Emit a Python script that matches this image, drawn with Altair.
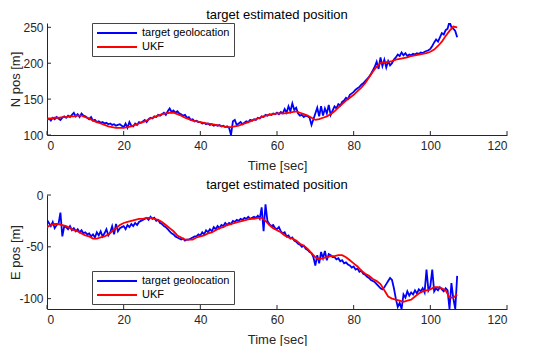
import altair as alt
import pandas as pd

# ---- data ----
# target geolocation, sampled every 0.5 s
north_geo = [
    121, 123, 120, 124, 122, 125, 123, 121, 124, 126,
    124, 127, 125, 128, 131, 126, 129, 125, 130, 127,
    126, 124, 122, 125, 120, 121, 118, 119, 117, 118,
    116, 117, 115, 116, 114, 115, 113, 114, 115, 113,
    111, 116, 110, 118, 113, 112, 116, 114, 118, 117,
    119, 121, 118, 122, 124, 123, 126, 125, 128, 127,
    129, 131, 128, 133, 137, 132, 134, 131, 133, 130,
    129, 127, 128, 124, 125, 121, 122, 119, 120, 118,
    118, 116, 117, 115, 116, 114, 115, 113, 114, 113,
    114, 112, 113, 111, 112, 110, 100, 119, 121, 114,
    116, 118, 115, 117, 119, 118, 121, 120, 122, 121,
    124, 123, 126, 125, 128, 127, 129, 128, 130, 129,
    131, 129, 132, 130, 136, 131, 140, 133, 144, 135,
    138, 130, 127, 128, 125, 127, 126, 124, 114, 122,
    130, 138, 126, 140, 127, 137, 130, 142, 128, 134,
    140, 137, 143, 141, 146, 148, 152, 150, 156, 158,
    160, 163, 165, 167, 170, 172, 175, 178, 181, 185,
    190, 195, 202, 192, 208, 196, 205, 194, 203, 197,
    200, 205, 208, 212, 210, 215, 211, 214, 210, 212,
    211, 213, 212, 214, 213, 215, 214, 216, 217, 218,
    220, 224, 229, 233, 230, 236, 242, 240, 246, 248,
    258, 250, 248, 245, 236,
]
# UKF estimate, sampled every 1 s
north_ukf = [
    122, 123, 124, 124, 125, 125, 126, 126, 127, 127,
    125, 123, 120, 118, 116, 114, 112, 111, 110, 110,
    110, 111, 112, 114, 116, 118, 120, 123, 125, 127,
    129, 130, 131, 131, 129, 127, 124, 122, 120, 119,
    118, 117, 116, 115, 114, 113, 112, 111, 111, 112,
    113, 115, 117, 119, 121, 123, 125, 127, 128, 129,
    130, 130, 130, 131, 132, 133, 131, 129, 127, 124,
    121, 122, 124, 126, 129, 133, 138, 143, 148, 152,
    156, 161, 166, 172, 180, 188, 195, 200, 201, 202,
    203, 205, 206, 207, 208, 210, 211, 212, 213, 214,
    216, 219, 224, 230, 238, 245, 251, 250,
]
east_geo = [
    -24, -27, -30, -26, -32, -29, -28, -17, -40, -30,
    -31, -33, -30, -34, -32, -35, -33, -36, -34, -37,
    -36, -38, -37, -40, -38, -41, -36, -39, -35, -40,
    -37, -33, -39, -36, -30, -38, -28, -35, -32, -31,
    -30, -33, -29, -31, -28, -30, -27, -29, -26, -25,
    -24, -23, -22, -24, -21, -23, -22, -25, -24, -27,
    -28, -30, -31, -33, -35, -37, -38, -40, -41, -42,
    -43, -42, -44, -43, -43, -42, -41, -40, -40, -38,
    -39, -36, -38, -34, -36, -33, -35, -31, -33, -30,
    -32, -29, -30, -27, -29, -27, -28, -25, -26, -24,
    -25, -23, -24, -22, -23, -21, -23, -22, -21, -22,
    -20, -23, -12, -35, -9, -25, -28, -30, -29, -32,
    -33, -31, -35, -37, -36, -40, -39, -42, -41, -44,
    -45, -47, -48, -50, -49, -52, -53, -55, -56, -60,
    -68, -58, -66, -55, -61, -54, -63, -57, -58, -60,
    -60, -62, -61, -64, -63, -66, -65, -67, -68, -70,
    -69, -72, -71, -74, -73, -76, -77, -79, -80, -82,
    -83, -84, -86, -88, -90, -91, -89, -86, -83, -80,
    -82, -90, -100, -108, -104, -110, -96, -99, -93, -97,
    -94, -96, -92, -95, -91, -93, -90, -94, -72, -92,
    -88, -72, -93, -90, -92, -89, -91, -93, -90, -92,
    -110, -85, -100, -110, -78,
]
east_ukf = [
    -31, -29, -28, -28, -29, -30, -32, -34, -35, -37,
    -39, -40, -42, -42, -41, -40, -38, -35, -32, -29,
    -27, -26, -25, -24, -23, -23, -22, -22, -23, -24,
    -26, -29, -32, -35, -39, -41, -43, -43, -43, -41,
    -40, -39, -37, -36, -34, -32, -31, -29, -28, -27,
    -26, -25, -24, -23, -23, -22, -22, -25, -29, -32,
    -34, -36, -39, -41, -42, -44, -47, -49, -52, -56,
    -60, -62, -61, -60, -59, -59, -58, -58, -60, -63,
    -66, -69, -73, -76, -78, -81, -83, -86, -92, -98,
    -100, -101, -102, -103, -102, -101, -98, -95, -93, -92,
    -91, -89, -89, -90, -92, -99, -99, -96,
]
x_ticks = [0, 20, 40, 60, 80, 100, 120]
north_ticks = [100, 150, 200, 250]
east_ticks = [-100, -50, 0]
series_names = ["target geolocation", "UKF"]
series_colors = ["#0000ff", "#ff0000"]
title_text = "target estimated position"

FONT = "Liberation Sans"
AX = "#262626"
W = 460


def panel(geo, ukf, ydomain, yticks, ytitle, height, legend_y, title_offset):
    geo_df = pd.DataFrame({"t": [i * 0.5 for i in range(len(geo))], "v": geo, "s": series_names[0]})
    ukf_df = pd.DataFrame({"t": list(range(len(ukf))), "v": ukf, "s": series_names[1]})
    color = alt.Color(
        "s:N",
        scale=alt.Scale(domain=series_names, range=series_colors),
        legend=alt.Legend(
            title=None, orient="none", legendX=45, legendY=legend_y,
            symbolType="M-1,0H7", symbolSize=100, symbolStrokeWidth=2,
            labelFontSize=11, labelFont=FONT, labelColor="#000", labelOffset=34,
            rowPadding=3, padding=4, strokeColor="#444", fillColor="white",
        ),
    )
    x = alt.X("t:Q", scale=alt.Scale(domain=[0, 120], nice=False),
              axis=alt.Axis(values=x_ticks, title="Time [sec]", format="d",
                            labelPadding=5, titlePadding=8))
    y = alt.Y("v:Q", scale=alt.Scale(domain=ydomain, nice=False, zero=False),
              axis=alt.Axis(values=yticks, title=ytitle, labelPadding=4,
                            labelExpr="toString(datum.value)",
                            titleX=-32, titleBaseline="middle"))
    blue = alt.Chart(geo_df).mark_line(strokeWidth=1.8, clip=True).encode(x=x, y=y, color=color)
    red = alt.Chart(ukf_df).mark_line(strokeWidth=1.8, clip=True).encode(x=x, y=y, color=color)
    xt = alt.Chart(pd.DataFrame({"t": x_ticks})).mark_rule(color=AX, strokeWidth=1).encode(
        x=x, y=alt.value(height), y2=alt.value(height - 4))
    yt = alt.Chart(pd.DataFrame({"v": yticks})).mark_rule(color=AX, strokeWidth=1).encode(
        y=y, x=alt.value(0), x2=alt.value(4))
    return alt.layer(blue, red, xt, yt).properties(
        width=W, height=height,
        title=alt.TitleParams(title_text, fontSize=13, fontWeight="normal",
                              font=FONT, color="#000", offset=title_offset),
    )


top = panel(north_geo, north_ukf, [100, 256], north_ticks, "N pos [m]", 112, 0, -1)
bottom = panel(east_geo, east_ukf, [-110, 0], east_ticks, "E pos [m]", 114, 76, -3)

chart = (
    alt.vconcat(top, bottom, spacing=7)
    .resolve_scale(x="independent", y="independent", color="independent")
    .properties(padding={"top": 1, "left": 0, "right": 0, "bottom": 0})
    .configure_view(stroke=None)
    .configure_axis(
        grid=False, ticks=False, domainColor=AX, domainWidth=1,
        labelFont=FONT, labelFontSize=12, labelColor=AX,
        titleFont=FONT, titleFontSize=13, titleFontWeight="normal", titleColor=AX,
    )
)

chart.save("out.html", embed_options={"renderer": "svg", "actions": False})
